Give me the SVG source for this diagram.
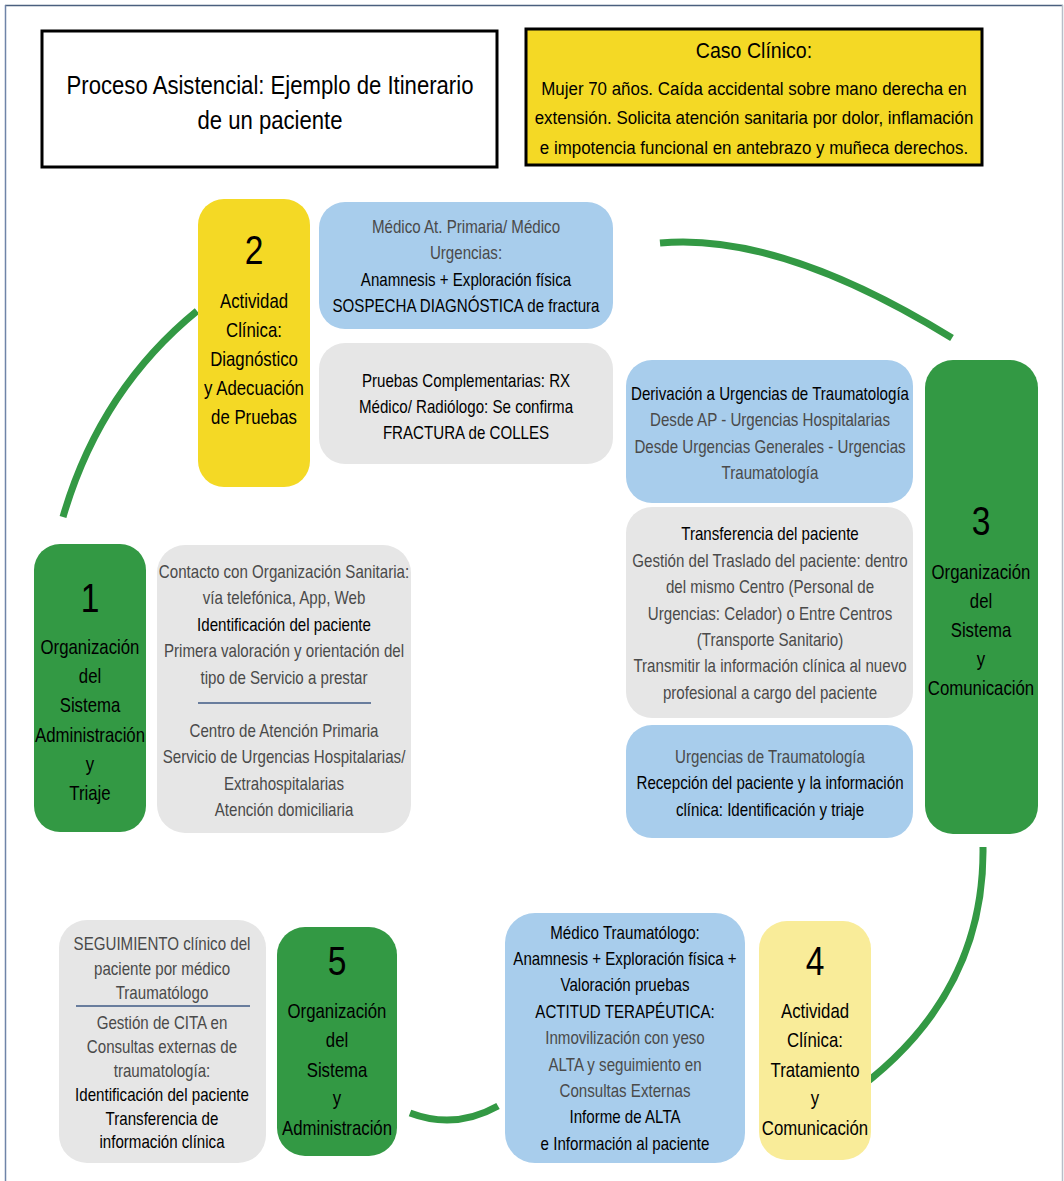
<svg xmlns="http://www.w3.org/2000/svg" width="1064" height="1181" viewBox="0 0 1064 1181">
<style>
text{font-family:"Liberation Sans",Arial,sans-serif;text-anchor:middle;}
.b{font-size:18px;fill:#000;}
.l{font-size:18px;fill:#4a4a4a;}
.h{font-size:20px;fill:#000;}
.n{font-size:40px;fill:#000;}
.con{fill:none;stroke:#339944;stroke-width:7;}
.blue{fill:#a8cdec;}
.gray{fill:#e6e6e6;}
.green{fill:#339944;}
.yel{fill:#f4d925;}
.lyel{fill:#f9ec99;}
.sep{stroke:#3f5a85;stroke-width:1.5;}
</style>
<rect x="0" y="0" width="1064" height="1181" fill="#fff"/>
<line x1="5" y1="5.5" x2="1063" y2="5.5" stroke="#4a5f7e" stroke-width="1.5"/>
<line x1="5.5" y1="5" x2="5.5" y2="1181" stroke="#6f84a8" stroke-width="1.5"/>
<line x1="1062.5" y1="5" x2="1062.5" y2="1181" stroke="#b8bec8" stroke-width="1.5"/>

<g id="title">
<rect x="42" y="31" width="455" height="136" fill="#fff" stroke="#000" stroke-width="3"/>
<g transform="translate(270,0) scale(0.885,1)">
<text x="0" y="94" style="font-size:25px" fill="#000">Proceso Asistencial: Ejemplo de Itinerario</text>
<text x="0" y="129" style="font-size:25px" fill="#000">de un paciente</text>
</g>
</g>
<g id="caso">
<rect x="526" y="29" width="456" height="136" class="yel" stroke="#000" stroke-width="3"/>
<g transform="translate(754,0) scale(0.89,1)">
<text x="0" y="58" style="font-size:22px" fill="#000">Caso Clínico:</text>
<text x="0" y="95" style="font-size:19px" fill="#000">Mujer 70 años. Caída accidental sobre mano derecha en</text>
<text x="0" y="124" style="font-size:19px" fill="#000">extensión. Solicita atención sanitaria por dolor, inflamación</text>
<text x="0" y="154" style="font-size:19px" fill="#000">e impotencia funcional en antebrazo y muñeca derechos.</text>
</g>
</g>

<g id="connectors">
<path class="con" d="M63,517 Q100,390 197,311"/>
<path class="con" d="M660,243 Q780,232 952,338"/>
<path class="con" d="M983,847 Q985,1000 847,1097"/>
<path class="con" d="M410,1113 Q455,1130 498,1106"/>
</g>

<g id="node2">
<rect x="198" y="199" width="112" height="288" rx="26" class="yel"/>
<g transform="translate(254,0) scale(0.84,1)">
<text x="0" y="264" class="n">2</text>
<text x="0" y="308" class="h">Actividad</text>
<text x="0" y="337" class="h">Clínica:</text>
<text x="0" y="366" class="h">Diagnóstico</text>
<text x="0" y="395" class="h">y Adecuación</text>
<text x="0" y="424" class="h">de Pruebas</text>
</g>
</g>
<g id="box2a">
<rect x="319" y="202" width="294" height="127" rx="26" class="blue"/>
<g transform="translate(466,0) scale(0.84,1)">
<text x="0" y="233" class="l">Médico At. Primaria/ Médico</text>
<text x="0" y="259" class="l">Urgencias:</text>
<text x="0" y="286" class="b">Anamnesis + Exploración física</text>
<text x="0" y="312" class="b">SOSPECHA DIAGNÓSTICA de fractura</text>
</g>
</g>
<g id="box2b">
<rect x="319" y="343" width="294" height="121" rx="26" class="gray"/>
<g transform="translate(466,0) scale(0.84,1)">
<text x="0" y="387" class="b">Pruebas Complementarias: RX</text>
<text x="0" y="413" class="b">Médico/ Radiólogo: Se confirma</text>
<text x="0" y="439" class="b">FRACTURA de COLLES</text>
</g>
</g>

<g id="node3">
<rect x="925" y="360" width="113" height="474" rx="28" class="green"/>
<g transform="translate(981,0) scale(0.84,1)">
<text x="0" y="535" class="n">3</text>
<text x="0" y="579" class="h">Organización</text>
<text x="0" y="608" class="h">del</text>
<text x="0" y="637" class="h">Sistema</text>
<text x="0" y="666" class="h">y</text>
<text x="0" y="695" class="h">Comunicación</text>
</g>
</g>
<g id="box3a">
<rect x="626" y="360" width="287" height="143" rx="26" class="blue"/>
<g transform="translate(770,0) scale(0.84,1)">
<text x="0" y="400" class="b">Derivación a Urgencias de Traumatología</text>
<text x="0" y="426" class="l">Desde AP - Urgencias Hospitalarias</text>
<text x="0" y="453" class="l">Desde Urgencias Generales - Urgencias</text>
<text x="0" y="479" class="l">Traumatología</text>
</g>
</g>
<g id="box3b">
<rect x="626" y="507" width="287" height="211" rx="26" class="gray"/>
<g transform="translate(770,0) scale(0.84,1)">
<text x="0" y="540" class="b">Transferencia del paciente</text>
<text x="0" y="567" class="l">Gestión del Traslado del paciente: dentro</text>
<text x="0" y="593" class="l">del mismo Centro (Personal de</text>
<text x="0" y="620" class="l">Urgencias: Celador) o Entre Centros</text>
<text x="0" y="646" class="l">(Transporte Sanitario)</text>
<text x="0" y="672" class="l">Transmitir la información clínica al nuevo</text>
<text x="0" y="699" class="l">profesional a cargo del paciente</text>
</g>
</g>
<g id="box3c">
<rect x="626" y="725" width="287" height="113" rx="26" class="blue"/>
<g transform="translate(770,0) scale(0.84,1)">
<text x="0" y="763" class="l">Urgencias de Traumatología</text>
<text x="0" y="789" class="b">Recepción del paciente y la información</text>
<text x="0" y="816" class="b">clínica: Identificación y triaje</text>
</g>
</g>

<g id="node1">
<rect x="34" y="544" width="112" height="288" rx="26" class="green"/>
<g transform="translate(90,0) scale(0.84,1)">
<text x="0" y="612" class="n">1</text>
<text x="0" y="654" class="h">Organización</text>
<text x="0" y="683" class="h">del</text>
<text x="0" y="712" class="h">Sistema</text>
<text x="0" y="742" class="h">Administración</text>
<text x="0" y="771" class="h">y</text>
<text x="0" y="800" class="h">Triaje</text>
</g>
</g>
<g id="box1">
<rect x="157" y="545" width="254" height="288" rx="28" class="gray"/>
<line x1="198" y1="703" x2="371" y2="703" class="sep"/>
<g transform="translate(284,0) scale(0.84,1)">
<text x="0" y="578" class="l">Contacto con Organización Sanitaria:</text>
<text x="0" y="604" class="l">vía telefónica, App, Web</text>
<text x="0" y="631" class="b">Identificación del paciente</text>
<text x="0" y="657" class="l">Primera valoración y orientación del</text>
<text x="0" y="684" class="l">tipo de Servicio a prestar</text>
<text x="0" y="737" class="l">Centro de Atención Primaria</text>
<text x="0" y="763" class="l">Servicio de Urgencias Hospitalarias/</text>
<text x="0" y="790" class="l">Extrahospitalarias</text>
<text x="0" y="816" class="l">Atención domiciliaria</text>
</g>
</g>

<g id="node5">
<rect x="277" y="927" width="120" height="229" rx="28" class="green"/>
<g transform="translate(337,0) scale(0.84,1)">
<text x="0" y="975" class="n">5</text>
<text x="0" y="1018" class="h">Organización</text>
<text x="0" y="1047" class="h">del</text>
<text x="0" y="1077" class="h">Sistema</text>
<text x="0" y="1105" class="h">y</text>
<text x="0" y="1135" class="h">Administración</text>
</g>
</g>
<g id="box5">
<rect x="59" y="920" width="207" height="243" rx="28" class="gray"/>
<line x1="76" y1="1006" x2="250" y2="1006" class="sep"/>
<g transform="translate(162,0) scale(0.84,1)">
<text x="0" y="950" class="l">SEGUIMIENTO clínico del</text>
<text x="0" y="975" class="l">paciente por médico</text>
<text x="0" y="999" class="l">Traumatólogo</text>
<text x="0" y="1029" class="l">Gestión de CITA en</text>
<text x="0" y="1053" class="l">Consultas externas de</text>
<text x="0" y="1077" class="l">traumatología:</text>
<text x="0" y="1101" class="b">Identificación del paciente</text>
<text x="0" y="1125" class="b">Transferencia de</text>
<text x="0" y="1148" class="b">información clínica</text>
</g>
</g>

<g id="box4">
<rect x="505" y="913" width="240" height="250" rx="30" class="blue"/>
<g transform="translate(625,0) scale(0.84,1)">
<text x="0" y="939" class="b">Médico Traumatólogo:</text>
<text x="0" y="965" class="b">Anamnesis + Exploración física +</text>
<text x="0" y="991" class="b">Valoración pruebas</text>
<text x="0" y="1018" class="b">ACTITUD TERAPÉUTICA:</text>
<text x="0" y="1044" class="l">Inmovilización con yeso</text>
<text x="0" y="1071" class="l">ALTA y seguimiento en</text>
<text x="0" y="1097" class="l">Consultas Externas</text>
<text x="0" y="1123" class="b">Informe de ALTA</text>
<text x="0" y="1150" class="b">e Información al paciente</text>
</g>
</g>
<g id="node4">
<rect x="759" y="921" width="112" height="239" rx="28" class="lyel"/>
<g transform="translate(815,0) scale(0.84,1)">
<text x="0" y="975" class="n">4</text>
<text x="0" y="1018" class="h">Actividad</text>
<text x="0" y="1047" class="h">Clínica:</text>
<text x="0" y="1077" class="h">Tratamiento</text>
<text x="0" y="1105" class="h">y</text>
<text x="0" y="1135" class="h">Comunicación</text>
</g>
</g>
</svg>
